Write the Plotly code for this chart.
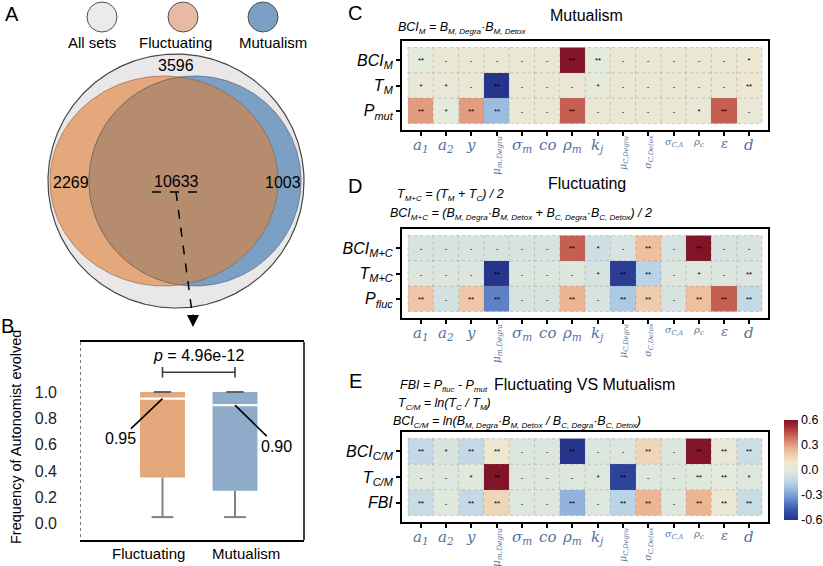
import numpy as np
import plotly.graph_objects as go

W, H = 823, 566
def fx(x): return x / W
def fy(y): return 1 - y / H

FONT = "Liberation Sans, Arial, sans-serif"
SERIF = "DejaVu Serif, Liberation Serif, serif"

# ---------------- data : panel A (Venn) ----------------
venn_legend = ["All sets", "Fluctuating", "Mutualism"]
venn_regions = ["all_only", "fluc_only", "both", "mut_only"]
venn_counts = [3596, 2269, 10633, 1003]

# ---------------- data : panel B (box) ----------------
box_groups = ["Fluctuating", "Mutualism"]
box_q1 = [0.35, 0.25]
box_median = [0.95, 0.90]
box_q3 = [1.00, 1.00]
box_lower = [0.05, 0.05]
box_upper = [1.00, 1.00]
p_value = "4.96e-12"
b_yticks = [0.0, 0.2, 0.4, 0.6, 0.8, 1.0]

# ---------------- data : heatmaps ----------------
params = ["a1", "a2", "y", "mu_mDegra", "sigma_m", "co", "rho_m", "k_j",
          "mu_CDegra", "sigma_CDetox", "sigma_CA", "rho_c", "eps", "d"]
param_labels = ["<i>a<sub>1</sub></i>", "<i>a<sub>2</sub></i>", "<i>y</i>",
                "<i>μ<sub>m,Degra</sub></i>", "<i>σ<sub>m</sub></i>", "<i>co</i>",
                "<i>ρ<sub>m</sub></i>", "<i>k<sub>j</sub></i>",
                "<i>μ<sub>C,Degra</sub></i>", "<i>σ<sub>C,Detox</sub></i>",
                "<i>σ<sub>C,A</sub></i>", "<i>ρ<sub>c</sub></i>", "<i>ε</i>", "<i>d</i>"]

def sub(s, size=8):
    return f"<sub><span style='font-size:{size}px'>{s}</span></sub>"

C_rows = ["BCI_M", "T_M", "P_mut"]
C_row_labels = ["<i>BCI" + sub("M", 11) + "</i>", "<i>T" + sub("M", 11) + "</i>", "<i>P" + sub("mut", 11) + "</i>"]
C_BCI = [0.00, 0.05, 0.05, 0.05, 0.05, 0.05, 0.60, 0.00, 0.05, 0.05, 0.05, 0.05, 0.05, 0.06]
C_T   = [0.04, 0.04, 0.05, -0.60, 0.05, 0.05, 0.05, 0.01, 0.05, 0.05, 0.05, 0.05, 0.05, 0.07]
C_P   = [0.30, 0.01, 0.30, -0.22, 0.05, 0.05, 0.42, 0.05, 0.05, 0.05, 0.05, 0.04, 0.42, 0.04]
C_BCI_sig = ["**", "-", "-", "-", "-", "-", "**", "**", "-", "-", "-", "-", "-", "*"]
C_T_sig   = ["*", "*", "-", "**", "-", "-", "-", "*", "-", "-", "-", "-", "-", "**"]
C_P_sig   = ["**", "*", "**", "**", "-", "-", "**", "-", "-", "-", "-", "*", "**", "-"]

D_rows = ["BCI_MC", "T_MC", "P_fluc"]
D_row_labels = ["<i>BCI" + sub("M+C", 11) + "</i>", "<i>T" + sub("M+C", 11) + "</i>", "<i>P" + sub("fluc", 11) + "</i>"]
D_BCI = [-0.05, -0.05, -0.05, -0.05, -0.05, -0.05, 0.42, -0.08, -0.05, 0.22, -0.05, 0.60, -0.05, -0.05]
D_T   = [-0.03, -0.03, -0.03, -0.60, -0.03, -0.03, -0.02, -0.05, -0.57, -0.15, -0.03, -0.02, -0.03, -0.03]
D_P   = [0.20, -0.06, 0.20, -0.38, -0.05, -0.05, 0.25, -0.05, -0.18, 0.18, -0.05, 0.22, 0.42, -0.12]
D_BCI_sig = ["-", "-", "-", "-", "-", "-", "**", "*", "-", "**", "-", "**", "-", "-"]
D_T_sig   = ["-", "-", "-", "**", "-", "-", "-", "*", "**", "**", "-", "*", "-", "**"]
D_P_sig   = ["**", "-", "**", "**", "-", "-", "**", "-", "**", "**", "-", "**", "**", "**"]

E_rows = ["BCI_CM", "T_CM", "FBI"]
E_row_labels = ["<i>BCI" + sub("C/M", 11) + "</i>", "<i>T" + sub("C/M", 11) + "</i>", "<i>FBI</i>"]
E_BCI = [-0.12, -0.04, -0.12, 0.08, -0.03, -0.03, -0.60, -0.03, -0.03, 0.15, -0.03, 0.60, 0.04, -0.09]
E_T   = [-0.02, -0.02, -0.01, 0.60, -0.02, -0.02, -0.02, -0.02, -0.55, -0.02, -0.02, -0.01, 0.00, -0.02]
E_FBI = [-0.10, -0.01, -0.12, 0.15, -0.02, -0.02, -0.25, -0.02, -0.15, 0.25, -0.02, 0.25, 0.05, -0.10]
E_BCI_sig = ["**", "*", "**", "**", "-", "-", "**", "-", "-", "**", "-", "**", "**", "**"]
E_T_sig   = ["-", "-", "*", "**", "-", "-", "-", "*", "**", "-", "-", "**", "**", "*"]
E_FBI_sig = ["**", "-", "**", "**", "-", "-", "**", "-", "**", "**", "-", "**", "**", "**"]

cbar_ticks = [-0.6, -0.3, 0.0, 0.3, 0.6]

# ---------------- styles ----------------
colorscale = [
    [0.00, "rgb(38,52,140)"],
    [0.10, "rgb(55,85,172)"],
    [0.25, "rgb(125,163,215)"],
    [0.38, "rgb(188,214,232)"],
    [0.50, "rgb(228,234,220)"],
    [0.58, "rgb(240,230,205)"],
    [0.70, "rgb(238,186,152)"],
    [0.82, "rgb(210,115,95)"],
    [0.92, "rgb(170,50,55)"],
    [1.00, "rgb(130,20,40)"],
]
ORANGE = "rgb(228,168,124)"
BLUE = "rgb(124,160,196)"
BROWN = "rgb(182,140,110)"
GRAYFILL = "rgb(233,231,231)"

fig = go.Figure()
annotations = []
shapes = []

def txt(x, y, s, size, xanchor="center", yanchor="middle", family=FONT, color="black", angle=0):
    annotations.append(dict(x=fx(x), y=fy(y), xref="paper", yref="paper", text=s,
                            showarrow=False, xanchor=xanchor, yanchor=yanchor, textangle=angle,
                            font=dict(size=size, family=family, color=color)))

# ================= Panel A : Venn =================
t = np.linspace(0, 2 * np.pi, 361)
def ellipse(cx, cy, rx, ry):
    return cx + rx * np.cos(t), cy + ry * np.sin(t)
OUT = (176, 181, 128, 127)
ORG = (164, 181, 114, 105)
BLU = (195, 181, 106, 105)
def inside(x, y, e):
    return ((x - e[0]) / e[2]) ** 2 + ((y - e[1]) / e[3]) ** 2 <= 1.0

ux, uy = ellipse(*OUT)
ox, oy = ellipse(*ORG)
bx, by = ellipse(*BLU)
lx = np.concatenate([ox[inside(ox, oy, BLU)], bx[inside(bx, by, ORG)]])
ly = np.concatenate([oy[inside(ox, oy, BLU)], by[inside(bx, by, ORG)]])
order = np.argsort(np.arctan2(ly - ly.mean(), lx - lx.mean()))
lx, ly = list(lx[order]), list(ly[order])
lx.append(lx[0]); ly.append(ly[0])

for xs, ys, fill, lc, lw in [(ux, uy, GRAYFILL, "rgb(70,70,70)", 1.2),
                             (ox, oy, ORANGE, "rgb(160,115,85)", 0.8),
                             (bx, by, BLUE, "rgb(90,110,140)", 0.8),
                             (lx, ly, BROWN, "rgba(120,90,70,0.7)", 0.8)]:
    fig.add_trace(go.Scatter(x=list(xs), y=list(ys), mode="lines", fill="toself",
                             fillcolor=fill, line=dict(color=lc, width=lw),
                             xaxis="x4", yaxis="y4", hoverinfo="skip", showlegend=False))

# legend circles
fig.add_trace(go.Scatter(x=[102, 183, 263], y=[17, 17, 17], mode="markers",
                         marker=dict(size=30, color=["rgb(236,234,234)", "rgb(232,186,166)", "rgb(124,160,196)"],
                                     line=dict(color="rgb(80,80,80)", width=1)),
                         xaxis="x4", yaxis="y4", hoverinfo="skip", showlegend=False))
for lab, cx in zip(venn_legend, [92, 175, 273]):
    txt(cx, 43, lab, 15)

for val, (cx, cy) in zip(venn_counts, [(176, 66), (71, 182), (176, 181), (283, 182)]):
    txt(cx, cy, str(val), 16)

# dashed connector + arrow
shapes.append(dict(type="line", xref="paper", yref="paper", x0=fx(152), y0=fy(192), x1=fx(199), y1=fy(192),
                   line=dict(color="black", width=1.5, dash="dash")))
shapes.append(dict(type="line", xref="paper", yref="paper", x0=fx(176), y0=fy(192), x1=fx(192.5), y1=fy(316),
                   line=dict(color="black", width=1.5, dash="dash")))
annotations.append(dict(x=fx(193), y=fy(327), xref="paper", yref="paper", ax=0, ay=-14,
                        showarrow=True, arrowhead=2, arrowsize=1.6, arrowwidth=1.5, arrowcolor="black", text=""))

# ================= Panel B : box =================
xpos = list(range(len(box_groups)))
fig.add_trace(go.Bar(x=xpos, y=[q3 - q1 for q1, q3 in zip(box_q1, box_q3)], base=box_q1, width=0.62,
                     marker=dict(color=[ORANGE, "rgb(142,172,202)"], line=dict(width=0)),
                     xaxis="x5", yaxis="y5", hoverinfo="skip", showlegend=False))
for i in xpos:
    fig.add_trace(go.Scatter(x=[i, i, None, i - 0.15, i + 0.15], y=[box_lower[i], box_q1[i], None, box_lower[i], box_lower[i]],
                             mode="lines", line=dict(color="rgb(130,130,130)", width=2),
                             xaxis="x5", yaxis="y5", hoverinfo="skip", showlegend=False))
    fig.add_trace(go.Scatter(x=[i - 0.12, i + 0.12], y=[box_upper[i], box_upper[i]],
                             mode="lines", line=dict(color="rgb(95,95,95)", width=2),
                             xaxis="x5", yaxis="y5", hoverinfo="skip", showlegend=False))
    fig.add_trace(go.Scatter(x=[i - 0.31, i + 0.31], y=[box_median[i], box_median[i]],
                             mode="lines", line=dict(color="white", width=2.2),
                             xaxis="x5", yaxis="y5", hoverinfo="skip", showlegend=False))
# significance bracket
fig.add_trace(go.Scatter(x=[0, 0, None, 0, 1, None, 1, 1], y=[1.19, 1.11, None, 1.15, 1.15, None, 1.19, 1.11],
                         mode="lines", line=dict(color="rgb(60,60,60)", width=1.6),
                         xaxis="x5", yaxis="y5", hoverinfo="skip", showlegend=False))
annotations.append(dict(x=0.5, y=1.275, xref="x5", yref="y5", text="<i>p</i> = " + p_value, showarrow=False,
                        font=dict(size=16, family=FONT, color="black")))
annotations.append(dict(x=0, y=box_median[0], xref="x5", yref="y5", text=f"{box_median[0]:.2f}",
                        showarrow=True, arrowhead=0, arrowwidth=1.6, arrowcolor="black", ax=-42, ay=40,
                        font=dict(size=16, family=FONT, color="black")))
annotations.append(dict(x=1, y=box_median[1], xref="x5", yref="y5", text=f"{box_median[1]:.2f}",
                        showarrow=True, arrowhead=0, arrowwidth=1.6, arrowcolor="black", ax=42, ay=41,
                        font=dict(size=16, family=FONT, color="black")))
for lab, cx in zip(box_groups, [148, 246]):
    txt(cx, 553, lab, 15)
txt(16, 437, "Frequency of Autonomist evolved", 14.5, angle=-90)
shapes.append(dict(type="line", xref="paper", yref="paper", x0=fx(304), x1=fx(304), y0=fy(342), y1=fy(540),
                   line=dict(color="black", width=1.5)))
shapes.append(dict(type="line", xref="paper", yref="paper", x0=fx(80.5), x1=fx(80.5), y0=fy(342), y1=fy(540),
                   line=dict(color="rgb(120,120,120)", width=1, dash="dot")))

# ================= Heatmaps =================
panels = [
    ("", C_rows, C_row_labels, [C_BCI, C_T, C_P], [C_BCI_sig, C_T_sig, C_P_sig], (402, 768, 41, 130), False),
    ("2", D_rows, D_row_labels, [D_BCI, D_T, D_P], [D_BCI_sig, D_T_sig, D_P_sig], (402, 768, 229, 318), False),
    ("3", E_rows, E_row_labels, [E_BCI, E_T, E_FBI], [E_BCI_sig, E_T_sig, E_FBI_sig], (402, 768, 432, 522), True),
]
label_sizes = [15, 15, 15, 10.5, 15, 15, 15, 15, 9.5, 9.5, 9.5, 10, 13, 15]
label_angles = [0, 0, 0, -90, 0, 0, 0, 0, -90, -90, 0, 0, 0, 0]

layout_axes = {}
for idx, rows, rlabels, z, sig, (x0, x1, y0, y1), showscale in panels:
    cb = None
    if showscale:
        cb = dict(x=fx(784), xanchor="left", xpad=0, y=fy(470), yanchor="middle", ypad=0,
                  len=100, lenmode="pixels", thickness=14, thicknessmode="pixels", outlinewidth=0,
                  tickvals=cbar_ticks, ticktext=[f"{v:.1f}" for v in cbar_ticks], ticks="",
                  tickfont=dict(size=12.5, family=FONT, color="black"))
    fig.add_trace(go.Heatmap(x=params, y=rows, z=z, text=sig, texttemplate="%{text}",
                             textfont=dict(size=8, color="black", family=FONT),
                             colorscale=colorscale, zmin=-0.6, zmax=0.6, showscale=showscale,
                             colorbar=cb, xaxis="x" + idx, yaxis="y" + idx, hoverinfo="skip"))
    layout_axes["xaxis" + idx] = dict(domain=[fx(x0), fx(x1)], anchor="y" + idx, type="category",
                                      range=[-0.737, 13.737], showline=True, mirror=True, linecolor="black",
                                      linewidth=2, ticks="outside", ticklen=4, tickwidth=1.5, tickcolor="black",
                                      showticklabels=False, showgrid=False, zeroline=False, fixedrange=True)
    layout_axes["yaxis" + idx] = dict(domain=[fy(y1), fy(y0)], anchor="x" + idx, type="category",
                                      range=[2.757, -0.757], showline=True, mirror=True, linecolor="black",
                                      linewidth=2, ticks="outside", ticklen=4, tickwidth=1.5, tickcolor="black",
                                      tickvals=rows, ticktext=rlabels, showgrid=False, zeroline=False,
                                      tickfont=dict(size=16, family=FONT, color="black"), fixedrange=True)
    # dotted cell grid
    for k in range(len(params) + 1):
        shapes.append(dict(type="line", xref="x" + idx, yref="y" + idx, x0=k - 0.5, x1=k - 0.5, y0=-0.5, y1=2.5,
                           line=dict(color="rgba(130,130,130,0.45)", width=0.8, dash="dot")))
    for k in range(len(rows) + 1):
        shapes.append(dict(type="line", xref="x" + idx, yref="y" + idx, x0=-0.5, x1=13.5, y0=k - 0.5, y1=k - 0.5,
                           line=dict(color="rgba(130,130,130,0.45)", width=0.8, dash="dot")))
    # column labels
    for p, lab, sz, ang in zip(params, param_labels, label_sizes, label_angles):
        annotations.append(dict(x=p, y=fy(y1 + 4), xref="x" + idx, yref="paper", text=lab, showarrow=False,
                                xanchor="center", yanchor="top", textangle=ang,
                                font=dict(size=sz, family=SERIF, color="rgb(85,115,160)")))

# titles / formulas
F = 12.5
txt(586, 16, "Mutualism", 16)
txt(396, 28, "<i>BCI" + sub("M") + " = B" + sub("M, Degra") + "·B" + sub("M, Detox") + "</i>", F, xanchor="left")
txt(587, 183, "Fluctuating", 16)
txt(395, 195, "<i>T" + sub("M+C") + " = (T" + sub("M") + " + T" + sub("C") + ") / 2</i>", F, xanchor="left")
txt(388, 214, "<i>BCI" + sub("M+C") + " = (B" + sub("M, Degra") + "·B" + sub("M, Detox") + " + B" + sub("C, Degra")
    + "·B" + sub("C, Detox") + ") / 2</i>", F, xanchor="left")
txt(492, 384, "Fluctuating VS Mutualism", 16, xanchor="left")
txt(398, 386, "<i>FBI = P" + sub("fluc") + " - P" + sub("mut") + "</i>", F, xanchor="left")
txt(396, 404, "<i>T" + sub("C/M") + " = ln(T" + sub("C") + " / T" + sub("M") + ")</i>", F, xanchor="left")
txt(391, 422, "<i>BCI" + sub("C/M") + " = ln(B" + sub("M, Degra") + "·B" + sub("M, Detox") + " / B" + sub("C, Degra")
    + "·B" + sub("C, Detox") + ")</i>", F, xanchor="left")

# panel letters
for lab, (x, y) in zip("ABCDE", [(12, 14), (8, 326), (355, 13), (355, 186), (355, 381)]):
    txt(x, y, lab, 20)

layout_axes["xaxis4"] = dict(domain=[0, fx(320)], anchor="y4", range=[0, 320], visible=False, fixedrange=True)
layout_axes["yaxis4"] = dict(domain=[fy(320), 1], anchor="x4", range=[320, 0], visible=False, fixedrange=True)
layout_axes["xaxis5"] = dict(domain=[fx(80), fx(304)], anchor="y5", range=[-1.138, 1.952],
                             showline=True, mirror=True, linecolor="black", linewidth=1.5,
                             tickvals=xpos, ticktext=["", ""], ticks="", showgrid=False, zeroline=False)
layout_axes["yaxis5"] = dict(domain=[fy(540), fy(342)], anchor="x5", range=[-0.124, 1.38],
                             showline=False, tickvals=b_yticks, ticktext=[f"{v:.1f}" for v in b_yticks],
                             ticks="", ticklabelstandoff=22, showgrid=False, zeroline=False,
                             tickfont=dict(size=16, family=FONT, color="rgb(30,30,30)"))

fig.update_layout(width=W, height=H, margin=dict(l=0, r=0, t=0, b=0),
                  paper_bgcolor="white", plot_bgcolor="white", showlegend=False,
                  annotations=annotations, shapes=shapes, font=dict(family=FONT), **layout_axes)
fig.write_html("out.html", config={"displayModeBar": False},
               post_script="document.body.style.margin='0';document.body.style.overflow='hidden';")
